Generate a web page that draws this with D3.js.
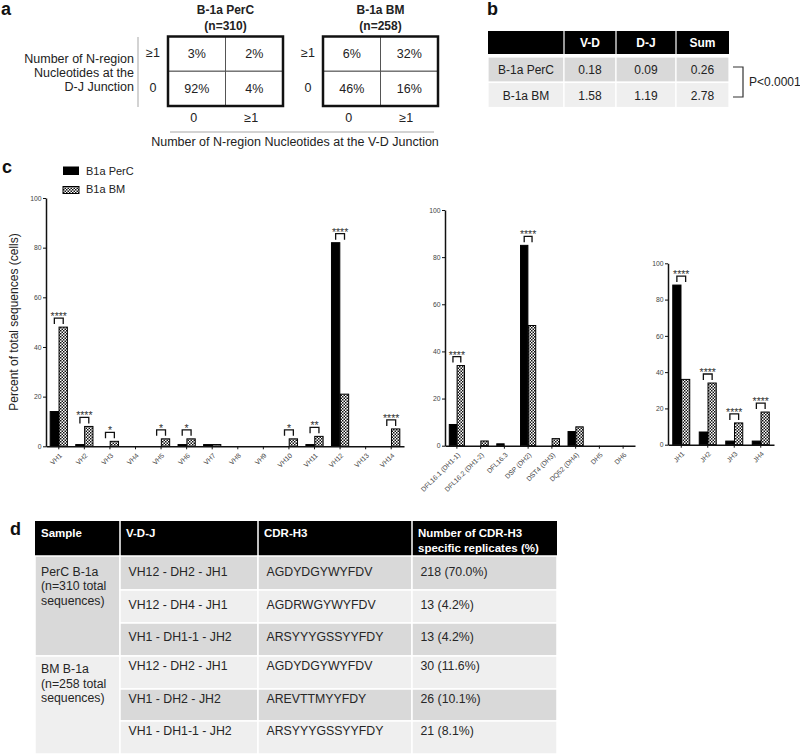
<!DOCTYPE html>
<html><head><meta charset="utf-8">
<script src="https://cdn.jsdelivr.net/npm/d3@7"></script>
<style>
body{margin:0;background:#fff}
svg{display:block}
text{font-family:"Liberation Sans",Arial,sans-serif}
</style>
</head><body>
<svg id="fig" width="800" height="754"></svg>
<script>
// ---------- DATA ----------
// Panel a
const aSamples = ["B-1a PerC", "B-1a BM"];
const aCounts = ["(n=310)", "(n=258)"];
const aRowLevels = ["≥1", "0"];      // D-J junction (top -> bottom)
const aColLevels = ["0", "≥1"];      // V-D junction (left -> right)
const aPerC = [3, 2, 92, 4];         // row-major: [DJ≥1:VD0, DJ≥1:VD≥1, DJ0:VD0, DJ0:VD≥1]
const aBM = [6, 32, 46, 16];
// Panel b
const bCols = ["V-D", "D-J", "Sum"];
const bRows = ["B-1a PerC", "B-1a BM"];
const bPerC = ["0.18", "0.09", "0.26"];
const bBM = ["1.58", "1.19", "2.78"];
const bP = "P<0.0001";
// Panel c
const seriesNames = ["B1a PerC", "B1a BM"];
const yTicks = [0, 20, 40, 60, 80, 100];
const vhCats = ["VH1","VH2","VH3","VH4","VH5","VH6","VH7","VH8","VH9","VH10","VH11","VH12","VH13","VH14"];
const vhPerC = [14, 0.7, 0, 0, 0, 0.7, 0.7, 0, 0, 0, 0.7, 82, 0, 0];
const vhBM   = [48, 8, 2, 0, 3, 3, 0.7, 0, 0, 3, 4, 21, 0, 7];
const vhSig  = ["****","****","*","","*","*","","","","*","**","****","","****"];
const dhCats = ["DFL16.1 (DH1-1)","DFL16.2 (DH1-2)","DFL16.3","DSP (DH2)","DST4 (DH3)","DQ52 (DH4)","DH5","DH6"];
const dhPerC = [9, 0, 0.8, 85, 0, 6, 0, 0];
const dhBM   = [34, 2, 0, 51, 3, 8, 0, 0];
const dhSig  = ["****","","","****","","","",""];
const jhCats = ["JH1","JH2","JH3","JH4"];
const jhPerC = [88, 7, 2, 2];
const jhBM   = [36, 34, 12, 18];
const jhSig  = ["****","****","****","****"];
const yLabel = "Percent of total sequences (cells)";
// Panel d
const dHeaders = [["Sample"], ["V-D-J"], ["CDR-H3"], ["Number of CDR-H3", "specific replicates (%)"]];
const dSampleText = [["PerC B-1a", "(n=310 total", "sequences)"], ["BM B-1a", "(n=258 total", "sequences)"]];
const dVDJ = ["VH12 - DH2 - JH1","VH12 - DH4 - JH1","VH1 - DH1-1 - JH2","VH12 - DH2 - JH1","VH1 - DH2 - JH2","VH1 - DH1-1 - JH2"];
const dCDR = ["AGDYDGYWYFDV","AGDRWGYWYFDV","ARSYYYGSSYYFDY","AGDYDGYWYFDV","AREVTTMYYFDY","ARSYYYGSSYYFDY"];
const dReps = ["218 (70.0%)","13 (4.2%)","13 (4.2%)","30 (11.6%)","26 (10.1%)","21 (8.1%)"];

// ---------- DRAW ----------
const svg = d3.select("#fig");
const defs = svg.append("defs");
const pat = defs.append("pattern").attr("id","chk").attr("patternUnits","userSpaceOnUse")
  .attr("width",3).attr("height",3);
pat.append("rect").attr("width",3).attr("height",3).attr("fill","#fff");
pat.append("rect").attr("x",0).attr("y",0).attr("width",1.5).attr("height",1.5).attr("fill","#111");
pat.append("rect").attr("x",1.5).attr("y",1.5).attr("width",1.5).attr("height",1.5).attr("fill","#111");

// Panel labels
[["a",1,15],["b",487,15],["c",2,173],["d",10,535]].forEach(([t,x,y]) =>
  svg.append("text").attr("x",x).attr("y",y).attr("font-size",18).attr("font-weight","bold").attr("fill","#111").text(t));

// ---- Panel a ----
const aBoxes = [{x0:168, x1:283, vals:aPerC}, {x0:323, x1:438, vals:aBM}];
const aTop = 36.5, aBot = 106;
aBoxes.forEach((b, bi) => {
  const xs = d3.scaleBand().domain(aColLevels).range([b.x0, b.x1]);
  const ys = d3.scaleBand().domain(aRowLevels).range([aTop, aBot]);
  const cx = (b.x0 + b.x1) / 2;
  svg.append("text").attr("x",cx).attr("y",14).attr("text-anchor","middle").attr("font-size",12).attr("font-weight","bold").attr("fill","#222").text(aSamples[bi]);
  svg.append("text").attr("x",cx).attr("y",30).attr("text-anchor","middle").attr("font-size",12).attr("font-weight","bold").attr("fill","#222").text(aCounts[bi]);
  aRowLevels.forEach((r, ri) => {
    aColLevels.forEach((c, ci) => {
      svg.append("rect").attr("x",xs(c)).attr("y",ys(r)).attr("width",xs.bandwidth()).attr("height",ys.bandwidth())
        .attr("fill","#fff").attr("stroke","#555").attr("stroke-width",1);
      svg.append("text").attr("x",xs(c)+xs.bandwidth()/2).attr("y",ys(r)+ys.bandwidth()/2+4.5)
        .attr("text-anchor","middle").attr("font-size",12.5).attr("fill","#222").text(b.vals[ri*2+ci] + "%");
    });
    svg.append("text").attr("x",b.x0-15).attr("y",ys(r)+ys.bandwidth()/2+3).attr("text-anchor","middle")
      .attr("font-size",12.5).attr("fill","#222").text(r);
  });
  aColLevels.forEach(c => {
    svg.append("text").attr("x",xs(c)+xs.bandwidth()/2-3).attr("y",122).attr("text-anchor","middle")
      .attr("font-size",12.5).attr("fill","#222").text(c);
  });
  svg.append("rect").attr("x",b.x0).attr("y",aTop).attr("width",b.x1-b.x0).attr("height",aBot-aTop)
    .attr("fill","none").attr("stroke","#111").attr("stroke-width",2.5);
});
["Number of N-region","Nucleotides at the","D-J Junction"].forEach((t,i) =>
  svg.append("text").attr("x",134).attr("y",62.5+i*14.3).attr("text-anchor","end").attr("font-size",12.5).attr("fill","#222").text(t));
svg.append("line").attr("x1",138).attr("x2",138).attr("y1",37).attr("y2",107).attr("stroke","#c4c4c4").attr("stroke-width",1.5);
svg.append("line").attr("x1",170).attr("x2",434).attr("y1",132).attr("y2",132).attr("stroke","#c4c4c4").attr("stroke-width",1.5);
svg.append("text").attr("x",295).attr("y",146).attr("text-anchor","middle").attr("font-size",12.5).attr("fill","#222")
  .text("Number of N-region Nucleotides at the V-D Junction");

// ---- Panel b ----
const bEdges = [488, 564, 616, 676, 729];
const bRowY = [[31,54],[57,82],[82.5,107.5]];
svg.append("rect").attr("x",bEdges[0]).attr("y",bRowY[0][0]).attr("width",bEdges[4]-bEdges[0]).attr("height",bRowY[0][1]-bRowY[0][0]).attr("fill","#000");
bEdges.slice(1,4).forEach(x => svg.append("line").attr("x1",x).attr("x2",x).attr("y1",31).attr("y2",54).attr("stroke","#fff").attr("stroke-width",1.2));
bCols.forEach((c,i) => svg.append("text").attr("x",(bEdges[i+1]+bEdges[i+2])/2).attr("y",46.5).attr("text-anchor","middle")
  .attr("font-size",12).attr("font-weight","bold").attr("fill","#fff").text(c));
[bPerC, bBM].forEach((row, ri) => {
  const [y0,y1] = bRowY[ri+1];
  const cells = [bRows[ri]].concat(row);
  cells.forEach((v, ci) => {
    svg.append("rect").attr("x",bEdges[ci]).attr("y",y0).attr("width",bEdges[ci+1]-bEdges[ci]).attr("height",y1-y0)
      .attr("fill", ri===0 ? "#d9d9d9" : "#efefef").attr("stroke","#fff").attr("stroke-width",1.2);
    svg.append("text").attr("x",(bEdges[ci]+bEdges[ci+1])/2).attr("y",(y0+y1)/2+4.5).attr("text-anchor","middle")
      .attr("font-size",12).attr("fill","#222").text(v);
  });
});
svg.append("path").attr("d","M733,67H743V97H733").attr("fill","none").attr("stroke","#333").attr("stroke-width",1.2);
svg.append("text").attr("x",749).attr("y",86).attr("font-size",12).attr("fill","#222").text(bP);

// ---- Panel c ----
// legend
svg.append("rect").attr("x",63).attr("y",166.5).attr("width",16).attr("height",8.5).attr("fill","#000");
svg.append("rect").attr("x",63).attr("y",186.5).attr("width",16).attr("height",7).attr("fill","url(#chk)").attr("stroke","#000").attr("stroke-width",1);
seriesNames.forEach((s,i) => svg.append("text").attr("x",86).attr("y",174.5+i*18.7).attr("font-size",11).attr("fill","#222").text(s));

function drawChart(cfg) {
  const g = svg.append("g");
  const x = d3.scaleBand().domain(cfg.cats).range([cfg.x0, cfg.x1]);
  const y = d3.scaleLinear().domain([0,100]).range([cfg.y0, cfg.y1]);
  const sub = d3.scaleBand().domain(seriesNames).range([-cfg.half, cfg.half]).paddingInner(0.06);
  const data = cfg.cats.map((c,i) => ({cat:c, vals:[cfg.perc[i], cfg.bm[i]], sig:cfg.sig[i]}));
  // y axis
  const ya = g.append("g").attr("transform",`translate(${cfg.x0},0)`)
    .call(d3.axisLeft(y).tickValues(yTicks).tickSize(3).tickSizeOuter(0).tickPadding(1.5));
  ya.select(".domain").attr("stroke","#111").attr("stroke-width",1.5);
  ya.selectAll(".tick line").attr("stroke","#111").attr("stroke-width",1);
  ya.selectAll(".tick text").attr("font-size",6.8).attr("fill","#444").attr("font-family","Liberation Sans, Arial, sans-serif");
  // bars
  data.forEach(d => {
    const cx = x(d.cat) + x.bandwidth()/2;
    d.vals.forEach((v, si) => {
      if (v <= 0) return;
      g.append("rect").attr("x", cx + sub(seriesNames[si])).attr("width", sub.bandwidth())
        .attr("y", y(v)).attr("height", y(0) - y(v))
        .attr("fill", si===0 ? "#000" : "url(#chk)").attr("stroke","#000").attr("stroke-width",1);
    });
    if (d.sig) {
      const top = y(Math.max(...d.vals)) - 9;
      const xa = cx + sub(seriesNames[0]) + sub.bandwidth()/2;
      const xb = cx + sub(seriesNames[1]) + sub.bandwidth()/2;
      g.append("path").attr("d",`M${xa},${top+6}V${top}H${xb}V${top+6}`).attr("fill","none").attr("stroke","#111").attr("stroke-width",1.3);
      g.append("text").attr("x",(xa+xb)/2).attr("y",top+2).attr("text-anchor","middle").attr("font-size",10.5).attr("fill","#333").text(d.sig);
    }
  });
  // x axis
  const xa = g.append("g").attr("transform",`translate(0,${cfg.y0})`)
    .call(d3.axisBottom(x).tickSize(3).tickSizeOuter(0));
  xa.select(".domain").attr("stroke","#111").attr("stroke-width",1.5);
  xa.selectAll(".tick line").attr("stroke","#111").attr("stroke-width",1);
  xa.selectAll(".tick text").attr("font-size",6.8).attr("fill","#444").attr("font-family","Liberation Sans, Arial, sans-serif")
    .attr("text-anchor","end").attr("x",0).attr("y",0).attr("dy","0.35em")
    .attr("transform","translate(2,8) rotate(-45)");
}
drawChart({cats:vhCats, perc:vhPerC, bm:vhBM, sig:vhSig, x0:46, x1:404, y0:446.3, y1:198, half:8.6});
drawChart({cats:dhCats, perc:dhPerC, bm:dhBM, sig:dhSig, x0:445, x1:635, y0:445.7, y1:210, half:7.6});
drawChart({cats:jhCats, perc:jhPerC, bm:jhBM, sig:jhSig, x0:668, x1:774, y0:444.7, y1:263.3, half:8.5});
svg.append("text").attr("transform","translate(18,322) rotate(-90)").attr("text-anchor","middle")
  .attr("font-size",12).attr("fill","#222").text(yLabel);

// ---- Panel d ----
const dColEdges = [35, 120, 258, 412, 557];
const dRowEdges = [556, 590, 623, 656, 689, 721, 754];
const dark = "#d9d9d9", light = "#efefef";
svg.append("rect").attr("x",dColEdges[0]).attr("y",521).attr("width",dColEdges[4]-dColEdges[0]).attr("height",35).attr("fill","#000");
dColEdges.slice(1,4).forEach(xv => svg.append("line").attr("x1",xv).attr("x2",xv).attr("y1",521).attr("y2",556).attr("stroke","#fff").attr("stroke-width",1.5));
dHeaders.forEach((lines, ci) => lines.forEach((t, li) =>
  svg.append("text").attr("x",dColEdges[ci]+6).attr("y",537+li*14.5).attr("font-family","Lato, 'Open Sans', sans-serif")
    .attr("font-size",11.5).attr("font-weight","bold").attr("fill","#fff").text(t)));
// sample merged cells
dSampleText.forEach((lines, si) => {
  const y0 = dRowEdges[si*3], y1 = dRowEdges[si*3+3];
  svg.append("rect").attr("x",dColEdges[0]).attr("y",y0).attr("width",dColEdges[1]-dColEdges[0]).attr("height",y1-y0)
    .attr("fill", si===0 ? dark : light).attr("stroke","#fff").attr("stroke-width",1.5);
  const base = si===0 ? 575.7 : 673.3;
  lines.forEach((t, li) => svg.append("text").attr("x",dColEdges[0]+6).attr("y",base+li*14.5)
    .attr("font-size",12.3).attr("fill","#262626").text(t));
});
const dBase = [575.7, 609, 640.7, 670, 702.7, 735];
dVDJ.forEach((v, ri) => {
  const y0 = dRowEdges[ri], y1 = dRowEdges[ri+1];
  [dVDJ[ri], dCDR[ri], dReps[ri]].forEach((t, k) => {
    const ci = k + 1;
    svg.append("rect").attr("x",dColEdges[ci]).attr("y",y0).attr("width",dColEdges[ci+1]-dColEdges[ci]).attr("height",y1-y0)
      .attr("fill", ri % 2 === 0 ? dark : light).attr("stroke","#fff").attr("stroke-width",1.5);
    svg.append("text").attr("x",dColEdges[ci]+8.5).attr("y",dBase[ri])
      .attr("font-size",12.3).attr("fill","#262626").text(t);
  });
});
</script>
</body></html>
